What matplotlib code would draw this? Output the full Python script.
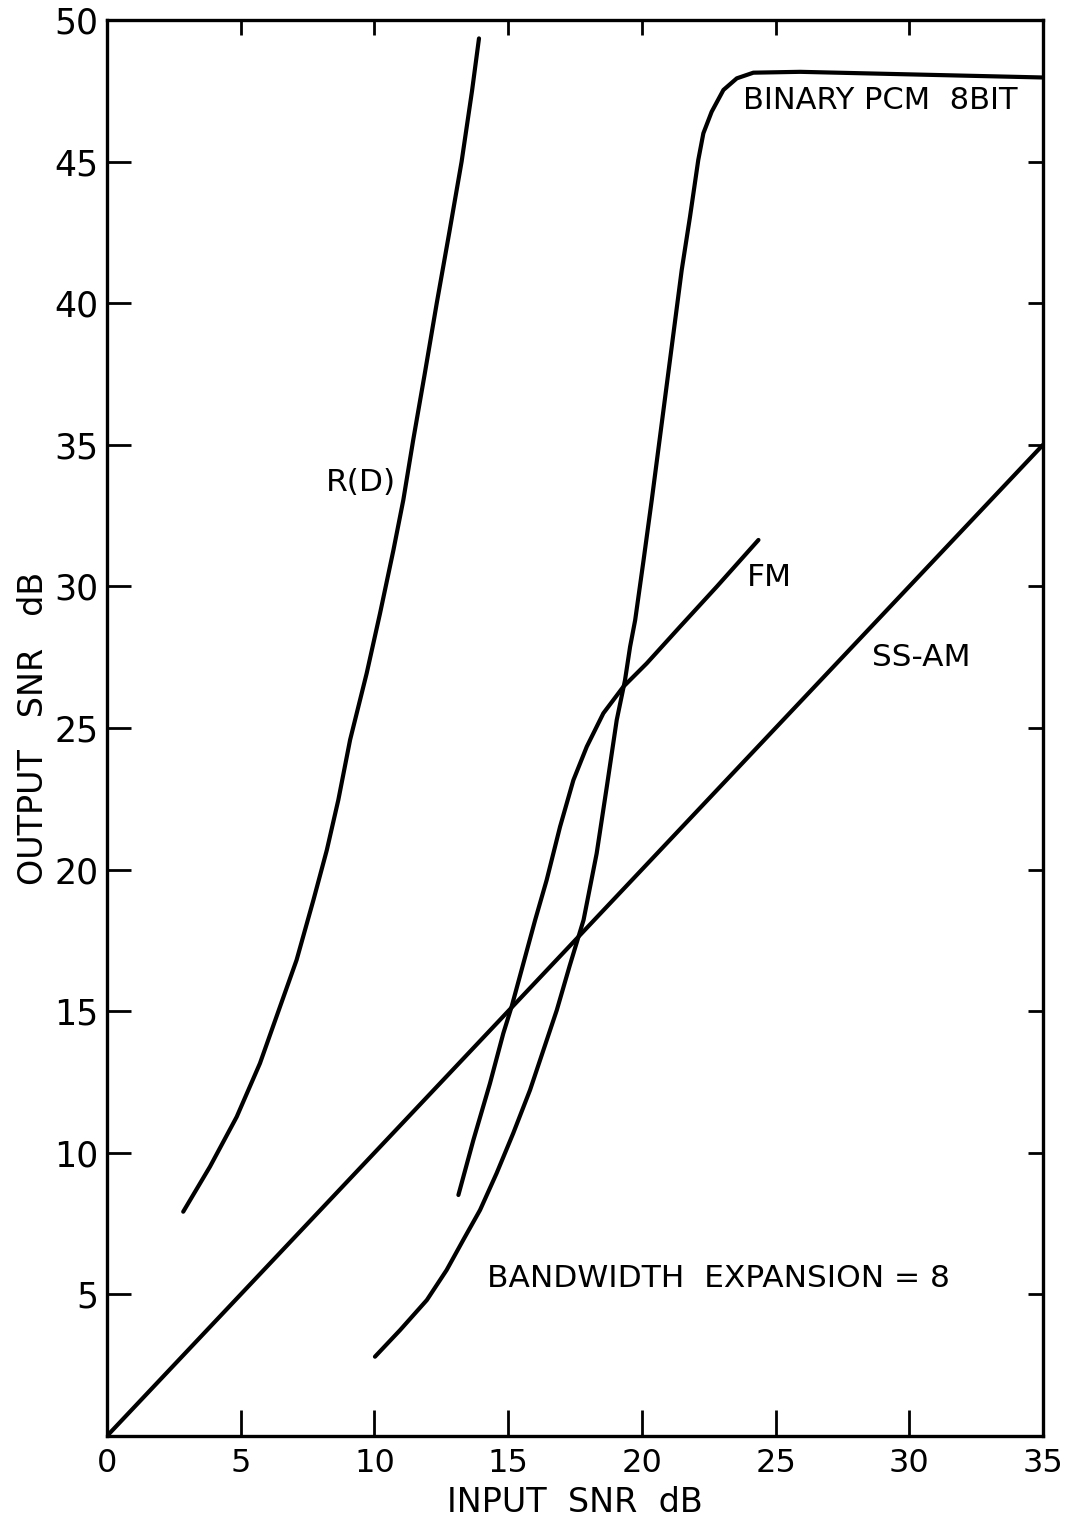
import matplotlib
matplotlib.use("Agg")
import matplotlib.pyplot as plt

# ---- data ----
rd_x = [2.85, 3.85, 4.85, 5.72, 6.47, 7.09, 7.72, 8.22, 8.65, 9.09, 9.71, 10.21, 10.71, 11.08, 11.45,
        11.88, 12.33, 12.8, 13.26, 13.65, 13.91]
rd_y = [7.92, 9.51, 11.27, 13.16, 15.16, 16.81, 18.93, 20.69, 22.46, 24.58, 26.93, 29.05, 31.28, 33.05, 35.17,
        37.5, 40.0, 42.5, 45.0, 47.5, 49.35]

pcm_x = [10.02, 10.96, 11.96, 12.7, 13.32, 13.95, 14.57, 15.19, 15.82, 16.32, 16.82, 17.3, 17.82, 18.31,
         18.69, 19.06, 19.37, 19.56, 19.75, 20.06, 20.37, 21.49, 21.8, 22.11, 22.3, 22.61, 23.05, 23.55,
         24.17, 25.92, 35.0]
pcm_y = [2.80, 3.74, 4.80, 5.86, 6.92, 7.98, 9.28, 10.69, 12.22, 13.63, 15.04, 16.6, 18.22, 20.57,
         22.93, 25.28, 26.69, 27.87, 28.81, 30.9, 33.05, 41.17, 43.05, 45.06, 46.0, 46.76, 47.53, 47.94,
         48.14, 48.17, 47.97]

fm_x = [13.14, 13.7, 14.32, 14.82, 15.13, 16.01, 16.44, 16.94, 17.44, 17.94, 18.56, 19.31, 20.18, 21.43,
        22.8, 24.36]
fm_y = [8.51, 10.45, 12.45, 14.22, 15.16, 18.22, 19.63, 21.51, 23.16, 24.34, 25.52, 26.46, 27.28, 28.58,
        29.99, 31.64]

ssam_x = [0, 35]
ssam_y = [0, 35]

x_ticks = [0, 5, 10, 15, 20, 25, 30, 35]
y_ticks = [5, 10, 15, 20, 25, 30, 35, 40, 45, 50]

plt.rcParams['font.family'] = ['DejaVu Sans']

fig = plt.figure(figsize=(10.65, 15.18), dpi=100)
ax = fig.add_axes([107 / 1065, 82 / 1518, 936 / 1065, 1416 / 1518])

lw = 3.0
for xs, ys in [(rd_x, rd_y), (pcm_x, pcm_y), (fm_x, fm_y), (ssam_x, ssam_y)]:
    ax.plot(xs, ys, color='black', lw=lw, solid_capstyle='round', solid_joinstyle='round')

ax.set_xlim(0, 35)
ax.set_ylim(0, 50)
ax.set_xticks(x_ticks)
ax.set_yticks(y_ticks)
ax.tick_params(axis='x', direction='in', length=19, width=2, labelsize=23, pad=9)
ax.tick_params(axis='y', direction='in', length=17, width=2, labelsize=25, pad=6)
for s in ax.spines.values():
    s.set_linewidth(2.4)

# shorter ticks on top and right
secx = ax.secondary_xaxis('top')
secx.set_xticks(x_ticks[1:-1])
secx.tick_params(direction='in', length=11, width=2, labeltop=False)
secx.spines['top'].set_visible(False)
secy = ax.secondary_yaxis('right')
secy.set_yticks(y_ticks[:-1])
secy.tick_params(direction='in', length=11, width=2, labelright=False)
secy.spines['right'].set_visible(False)

ax.set_xlabel('INPUT  SNR  dB', fontsize=24, labelpad=5)
ax.set_ylabel('OUTPUT   SNR   dB', fontsize=24, labelpad=3)

fs = 22.5
ax.text(8.2, 33.67, 'R(D)', fontsize=fs, ha='left', va='center')
ax.text(23.78, 47.17, 'BINARY PCM  8BIT', fontsize=fs - 0.5, ha='left', va='center')
ax.text(23.93, 30.3, 'FM', fontsize=fs, ha='left', va='center')
ax.text(28.6, 27.5, 'SS-AM', fontsize=fs, ha='left', va='center')
ax.text(14.2, 5.55, 'BANDWIDTH  EXPANSION = 8', fontsize=fs, ha='left', va='center')

fig.savefig('out.png', dpi=100)
